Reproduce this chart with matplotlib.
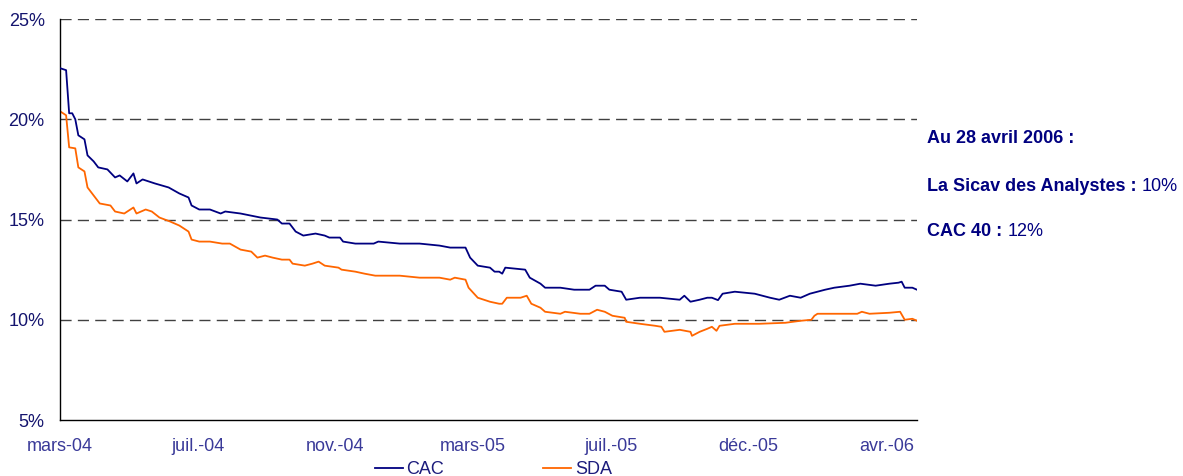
import matplotlib
matplotlib.use('Agg')
import matplotlib.pyplot as plt

plt.rcParams['font.family'] = ['Liberation Sans', 'DejaVu Sans']

# Données (jours de bourse depuis mars 2004, volatilité en %)
cac_days = [0, 4, 6, 8, 10, 12, 16, 18, 22, 25, 31, 36, 39, 44, 48, 50, 54, 62, 71, 78,
            84, 86, 91, 98, 105, 108, 118, 131, 142, 145, 150, 154, 159, 167, 173, 176,
            183, 185, 193, 197, 205, 208, 222, 235, 248, 255, 258, 265, 268, 273, 281,
            284, 287, 289, 291, 304, 307, 314, 317, 327, 336, 346, 350, 356, 359, 367,
            370, 379, 392, 405, 408, 412, 418, 423, 426, 430, 433, 441, 454, 464, 470,
            477, 484, 490, 495, 500, 506, 516, 523, 533, 542, 548, 550, 552, 557, 560]
cac_values = [22.55, 22.45, 20.3, 20.3, 20.0, 19.2, 19.0, 18.2, 17.9, 17.6, 17.5, 17.1,
              17.2, 16.9, 17.3, 16.8, 17.0, 16.8, 16.6, 16.3, 16.1, 15.7, 15.5, 15.5,
              15.3, 15.4, 15.3, 15.1, 15.0, 14.8, 14.8, 14.4, 14.2, 14.3, 14.2, 14.1,
              14.1, 13.9, 13.8, 13.8, 13.8, 13.9, 13.8, 13.8, 13.7, 13.6, 13.6, 13.6,
              13.1, 12.7, 12.6, 12.4, 12.4, 12.3, 12.6, 12.5, 12.1, 11.8, 11.6, 11.6,
              11.5, 11.5, 11.7, 11.7, 11.5, 11.4, 11.0, 11.1, 11.1, 11.0, 11.2, 10.9,
              11.0, 11.1, 11.1, 10.98, 11.3, 11.4, 11.3, 11.1, 11.0, 11.2, 11.1, 11.3,
              11.4, 11.5, 11.6, 11.7, 11.8, 11.7, 11.8, 11.85, 11.9, 11.6, 11.6, 11.5]

sda_days = [0, 4, 6, 10, 12, 16, 18, 23, 26, 33, 36, 42, 48, 50, 56, 60, 65, 72, 78, 84,
            86, 91, 98, 106, 111, 118, 125, 129, 134, 139, 145, 150, 152, 160, 165, 169,
            173, 182, 184, 193, 199, 206, 222, 235, 248, 255, 258, 265, 267, 273, 281,
            287, 289, 292, 301, 305, 308, 314, 317, 327, 330, 340, 346, 351, 356, 361,
            369, 370, 379, 389, 393, 395, 405, 412, 413, 418, 423, 426, 429, 431, 441,
            457, 474, 484, 491, 493, 495, 510, 521, 524, 529, 542, 549, 552, 557, 560]
sda_values = [20.4, 20.2, 18.6, 18.55, 17.6, 17.4, 16.6, 16.1, 15.8, 15.7, 15.4, 15.3,
              15.6, 15.3, 15.5, 15.4, 15.1, 14.9, 14.7, 14.4, 14.0, 13.9, 13.9, 13.8,
              13.8, 13.5, 13.4, 13.1, 13.2, 13.1, 13.0, 13.0, 12.8, 12.7, 12.8, 12.9,
              12.7, 12.6, 12.5, 12.4, 12.3, 12.2, 12.2, 12.1, 12.1, 12.0, 12.1, 12.0,
              11.6, 11.1, 10.9, 10.8, 10.8, 11.1, 11.1, 11.2, 10.8, 10.6, 10.4, 10.3,
              10.4, 10.3, 10.3, 10.5, 10.4, 10.2, 10.1, 9.9, 9.8, 9.7, 9.65, 9.4, 9.5,
              9.4, 9.2, 9.4, 9.55, 9.65, 9.45, 9.7, 9.8, 9.8, 9.85, 9.95, 10.0, 10.2,
              10.3, 10.3, 10.3, 10.4, 10.3, 10.35, 10.4, 10.0, 10.05, 9.95]

tick_days = [0, 90, 180, 270, 360, 450, 540]
tick_labels = ['mars-04', 'juil.-04', 'nov.-04', 'mars-05', 'juil.-05', 'déc.-05', 'avr.-06']
y_ticks = [5, 10, 15, 20, 25]

navy = '#000080'
fig = plt.figure(figsize=(11.83, 4.76), dpi=100)
ax = fig.add_axes([0.0507, 0.1176, 0.7244, 0.8424])

for y in y_ticks[1:]:
    ax.axhline(y, color='#404040', linewidth=1, linestyle=(0, (8, 4.5)), zorder=1)

ax.plot(cac_days, cac_values, color=navy, linewidth=1.3, label='CAC', zorder=3)
ax.plot(sda_days, sda_values, color='#ff6600', linewidth=1.3, label='SDA', zorder=2)

ax.set_xlim(0, 560)
ax.set_ylim(5, 25)
ax.set_yticks(y_ticks)
ax.set_yticklabels([f'{v}%' for v in y_ticks], color='#14146e', fontsize=13)
ax.set_xticks(tick_days)
ax.set_xticklabels(tick_labels, color='#3a3a99', fontsize=13)
ax.tick_params(axis='y', length=0, pad=11)
ax.tick_params(axis='x', length=0, pad=13)
for s in ['top', 'right']:
    ax.spines[s].set_visible(False)
for s in ['left', 'bottom']:
    ax.spines[s].set_color('black')
    ax.spines[s].set_linewidth(1)

fig.legend(loc='center', bbox_to_anchor=(0.417, 0.013), ncol=2, frameon=False,
           fontsize=13, handlelength=1.55, handletextpad=0.2, columnspacing=5.5,
           labelcolor='#1c1c7c', borderpad=0)

# Annotations à droite
fig.text(0.7836, 0.708, 'Au 28 avril 2006 :', color=navy, fontsize=13, fontweight='bold', va='center')
t1 = fig.text(0.7836, 0.609, 'La Sicav des Analystes : ', color=navy, fontsize=13,
              fontweight='bold', va='center')
fig.add_artist(plt.Annotation('10%', xy=(1, 0.5), xycoords=t1, va='center', ha='left',
                              color=navy, fontsize=13))
t2 = fig.text(0.7836, 0.513, 'CAC 40 : ', color=navy, fontsize=13, fontweight='bold', va='center')
fig.add_artist(plt.Annotation('12%', xy=(1, 0.5), xycoords=t2, va='center', ha='left',
                              color=navy, fontsize=13))

fig.savefig('out.png', dpi=100)
